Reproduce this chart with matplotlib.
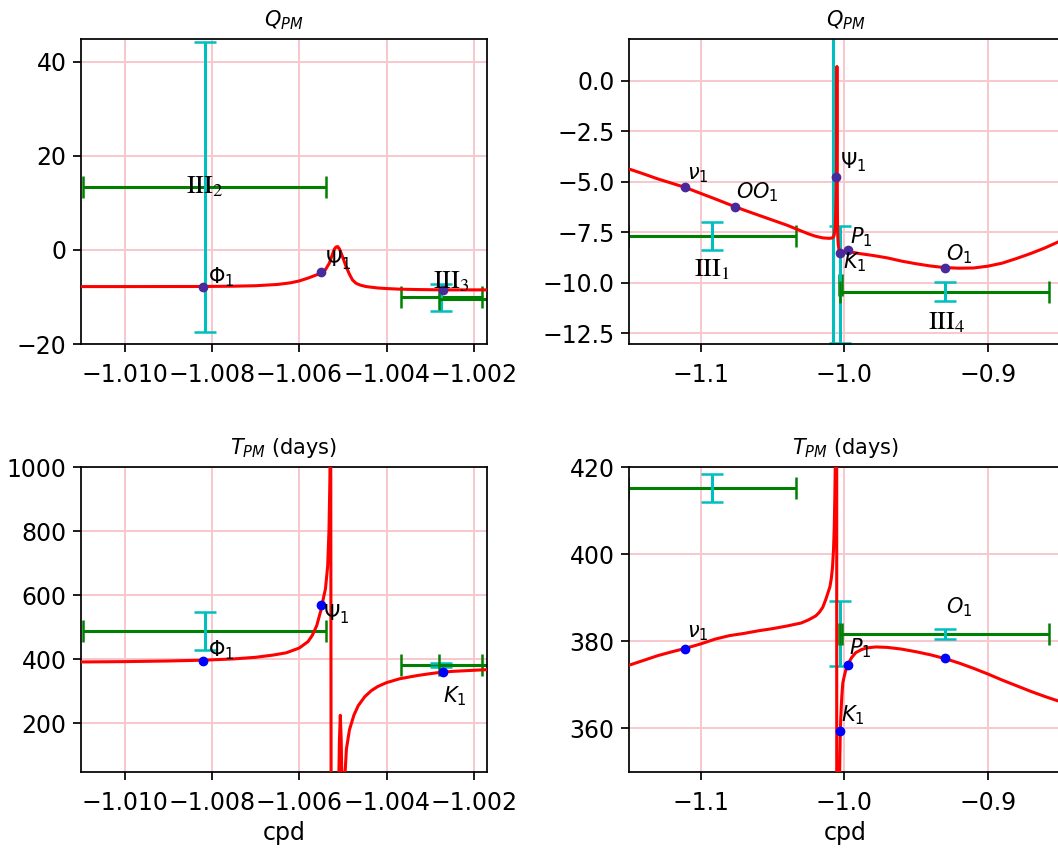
import matplotlib
matplotlib.use('Agg')
import matplotlib.pyplot as plt

# ---------------- model curves (cpd) ----------------
freq_Q = [-1.150, -1.140, -1.130, -1.120, -1.111, -1.100, -1.090, -1.080, -1.0759,
          -1.070, -1.060, -1.050, -1.040, -1.032, -1.025, -1.020, -1.015, -1.0110,
          -1.0100, -1.0090, -1.0082, -1.0075, -1.0070, -1.0065, -1.0062, -1.0060,
          -1.0058, -1.0056, -1.00548, -1.0054, -1.00531, -1.00525, -1.0052,
          -1.00516, -1.00512, -1.00508, -1.00504, -1.00498, -1.00493, -1.00485,
          -1.00478, -1.0047, -1.0046, -1.00447, -1.0042, -1.0040, -1.0037,
          -1.0033, -1.0027, -1.0022, -1.0017, -0.9973, -0.990, -0.980, -0.970,
          -0.960, -0.950, -0.940, -0.930, -0.920, -0.910, -0.900, -0.890, -0.880,
          -0.870, -0.860, -0.850]
Q_curve = [-4.37, -4.61, -4.86, -5.08, -5.28, -5.58, -5.85, -6.13, -6.24,
           -6.40, -6.65, -6.90, -7.15, -7.38, -7.58, -7.70, -7.78, -7.80,
           -7.80, -7.79, -7.78, -7.72, -7.62, -7.35, -7.00, -6.60,
           -6.00, -5.30, -4.80, -4.20, -2.80, -1.20, 0.10,
           0.60, 0.70, 0.20, -0.70, -2.20, -3.50, -5.20,
           -6.40, -7.10, -7.50, -7.80, -8.10, -8.22, -8.35,
           -8.43, -8.50, -8.50, -8.50, -8.45, -8.55, -8.65, -8.77,
           -8.93, -9.06, -9.17, -9.25, -9.28, -9.27, -9.18, -9.03, -8.80,
           -8.55, -8.27, -7.95]

freq_T = [-1.150, -1.140, -1.130, -1.120, -1.1116, -1.100, -1.090, -1.080, -1.070,
          -1.060, -1.050, -1.040, -1.030, -1.025, -1.020, -1.0175, -1.015, -1.013,
          -1.0110, -1.0100, -1.0090, -1.0082, -1.0075, -1.0070, -1.0066, -1.0063,
          -1.0060, -1.0058, -1.0057, -1.0056, -1.00555, -1.0055, -1.00548,
          -1.0054, -1.00535, -1.00532, -1.00530, -1.00528, -1.00526, -1.00511,
          -1.00508, -1.00506, -1.00504, -1.00501, -1.00497, -1.00492, -1.00485,
          -1.00475, -1.00465, -1.00450, -1.00435, -1.00420, -1.00400, -1.00370,
          -1.00330, -1.00300, -1.00277, -1.00250, -1.00200, -1.00170, -1.0010,
          -1.0000, -0.9990, -0.9973, -0.9950, -0.9920, -0.9880, -0.9840, -0.9780,
          -0.9700, -0.9600, -0.9500, -0.9400, -0.9295, -0.9200, -0.9100, -0.9000,
          -0.8900, -0.8800, -0.8700, -0.8600, -0.8500]
T_curve = [374.5, 375.6, 376.7, 377.6, 378.3, 379.4, 380.5, 381.3, 381.8,
           382.4, 382.9, 383.5, 384.2, 384.9, 385.8, 386.6, 387.8, 389.5,
           391.5, 392.5, 394.5, 397.0, 401.0, 406.0, 413.0, 420.0,
           435.0, 455.0, 475.0, 505.0, 530.0, 555.0, 570.0,
           620.0, 690.0, 800.0, 950.0, 1200.0, -1500.0, -100.0,
           150.0, 225.0, 150.0, -100.0, 0.0, 120.0, 180.0,
           225.0, 255.0, 283.0, 302.0, 315.0, 327.0, 339.0,
           349.0, 355.0, 359.0, 362.0, 365.5, 367.5, 370.5,
           372.0, 373.3, 374.8, 376.2, 377.4, 378.1, 378.5, 378.7,
           378.6, 378.2, 377.6, 376.9, 376.0, 375.0, 373.8, 372.5,
           371.1, 369.8, 368.5, 367.3, 366.2]

# ---------------- tidal constituents ----------------
wave_labels = [r'$\nu_1$', r'$OO_1$', r'$\Phi_1$', r'$\Psi_1$', r'$K_1$', r'$P_1$', r'$O_1$']
wave_freq = [-1.1112, -1.0759, -1.0082, -1.0055, -1.0027, -0.9973, -0.9295]
wave_Q = [-5.28, -6.24, -7.80, -4.75, -8.54, -8.37, -9.28]
wave_T = [378.2, None, 393.0, 570.0, 359.5, 374.5, 376.1]

# ---------------- observed bands ----------------
band_labels = [r'$\mathrm{III}_1$', r'$\mathrm{III}_2$', r'$\mathrm{III}_3$', r'$\mathrm{III}_4$']
band_freq = [-1.0924, -1.00817, -1.00275, -0.9300]
band_dfreq = [0.0586, 0.00279, 0.00093, 0.0728]
band_Q = [-7.70, 13.4, -10.1, -10.45]
band_dQ = [0.70, 30.8, 2.9, 0.47]
band_T = [415.2, 487.0, 381.75, 381.7]
band_dT = [3.2, 59.0, 7.45, 1.2]

W, H = 1058, 849
fig = plt.figure(figsize=(W / 100, H / 100), dpi=100)

TICK_FS = 17
TITLE_FS = 15
LABEL_FS = 15
BAND_FS = 19


def axes_px(left, top, right, bottom):
    return fig.add_axes([left / W, 1 - bottom / H, (right - left) / W, (bottom - top) / H])


ax_tl = axes_px(81, 39, 487, 344)
ax_tr = axes_px(629, 39, 1062, 344)
ax_bl = axes_px(81, 467, 487, 772)
ax_br = axes_px(629, 467, 1062, 772)


def draw(ax, fvals, yvals, wave_y, band_y, band_dy, dot_color, show, xlim, ylim):
    for f, df, y, dy in zip(band_freq, band_dfreq, band_y, band_dy):
        ax.errorbar([f], [y], xerr=[df], color='g', lw=2.2, capsize=8, capthick=1.8, zorder=2)
        ax.errorbar([f], [y], yerr=[dy], color='c', lw=2.2, capsize=8, capthick=1.8, zorder=2)
    ax.plot(fvals, yvals, color='r', lw=2.2, zorder=3)
    xs = [wave_freq[i] for i in show]
    ys = [wave_y[i] for i in show]
    ax.plot(xs, ys, 'o', color=dot_color, ms=6, zorder=4)
    ax.set_xlim(*xlim)
    ax.set_ylim(*ylim)
    ax.grid(True, color=(0.97, 0.78, 0.80), lw=1.4, zorder=0)
    ax.set_axisbelow(True)
    ax.tick_params(labelsize=TICK_FS, length=5.5, width=1.25)
    ax.tick_params(axis='x', pad=8.5)
    ax.tick_params(axis='y', pad=5)
    for s in ax.spines.values():
        s.set_linewidth(1.25)


purple = '#4a2a9a'
draw(ax_tl, freq_Q, Q_curve, wave_Q, band_Q, band_dQ, purple, [2, 3, 4],
     (-1.011, -1.0017), (-20, 44.8))
draw(ax_tr, freq_Q, Q_curve, wave_Q, band_Q, band_dQ, purple, [0, 1, 3, 4, 5, 6],
     (-1.15, -0.8483), (-13.03, 2.06))
draw(ax_bl, freq_T, T_curve, wave_T, band_T, band_dT, 'blue', [2, 3, 4],
     (-1.011, -1.0017), (48, 1000))
draw(ax_br, freq_T, T_curve, wave_T, band_T, band_dT, 'blue', [0, 4, 5, 6],
     (-1.15, -0.8483), (350, 420))

ticks_fine = [-1.010, -1.008, -1.006, -1.004, -1.002]
for a in (ax_tl, ax_bl):
    a.set_xticks(ticks_fine)
    a.set_xticklabels(['−1.010', '−1.008', '−1.006', '−1.004', '−1.002'])
ax_tl.set_yticks([-20, 0, 20, 40])
ax_tl.set_yticklabels(['−20', '0', '20', '40'])
ax_tr.set_yticks([0.0, -2.5, -5.0, -7.5, -10.0, -12.5])
ax_tr.set_yticklabels(['0.0', '−2.5', '−5.0', '−7.5', '−10.0', '−12.5'])
ax_bl.set_yticks([200, 400, 600, 800, 1000])
ax_br.set_yticks([360, 380, 400, 420])
for a in (ax_tr, ax_br):
    a.set_xticks([-1.1, -1.0, -0.9])
    a.set_xticklabels(['−1.1', '−1.0', '−0.9'])

for a in (ax_tl, ax_tr):
    a.set_title(r'$Q_{PM}$', fontsize=TITLE_FS, pad=9)
for a in (ax_bl, ax_br):
    a.set_title(r'$T_{PM}$ (days)', fontsize=TITLE_FS, pad=9)
    a.set_xlabel('cpd', fontsize=TICK_FS, labelpad=4)


def lab(ax, x, y, s, **kw):
    ax.text(x, y, s, fontsize=LABEL_FS, zorder=5, **kw)


def band_lab(ax, x, y, s):
    ax.text(x, y, s, fontsize=BAND_FS, math_fontfamily='stix', ha='center', va='center', zorder=5)


# top-left
lab(ax_tl, -1.0081, -7.2, wave_labels[2])
lab(ax_tl, -1.00542, -3.5, wave_labels[3])
band_lab(ax_tl, band_freq[1], band_Q[1], band_labels[1])
band_lab(ax_tl, -1.00252, -6.6, band_labels[2])
# top-right
lab(ax_tr, -1.1095, -4.9, wave_labels[0])
lab(ax_tr, -1.0753, -5.85, wave_labels[1])
lab(ax_tr, -1.0033, -4.35, wave_labels[3])
lab(ax_tr, -0.9963, -8.05, wave_labels[5])
lab(ax_tr, -1.0010, -9.3, wave_labels[4])
lab(ax_tr, -0.9291, -8.9, wave_labels[6])
band_lab(ax_tr, band_freq[0], -9.35, band_labels[0])
band_lab(ax_tr, -0.9289, -11.95, band_labels[3])
# bottom-left
lab(ax_bl, -1.0081, 408, wave_labels[2])
lab(ax_bl, -1.00545, 520, wave_labels[3])
lab(ax_bl, -1.0027, 265, wave_labels[4])
# bottom-right
lab(ax_br, -1.1098, 381, wave_labels[0])
lab(ax_br, -0.9965, 377, wave_labels[5])
lab(ax_br, -1.0020, 361.5, wave_labels[4])
lab(ax_br, -0.9292, 386.3, wave_labels[6])

fig.savefig('out.png', dpi=100)
